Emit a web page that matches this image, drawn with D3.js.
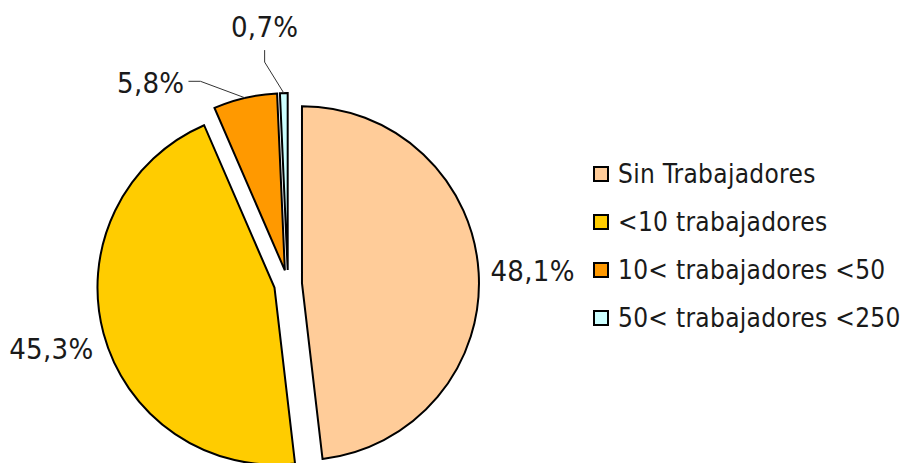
<!DOCTYPE html>
<html>
<head>
<meta charset="utf-8">
<script src="https://cdn.jsdelivr.net/npm/d3@7"></script>
<style>
  html, body { margin: 0; padding: 0; background: #fff; }
  svg { display: block; }
  text { font-family: "DejaVu Sans Condensed", "DejaVu Sans", sans-serif; font-stretch: condensed; fill: #1a1a1a; }
</style>
</head>
<body>
<svg id="chart" width="910" height="463"></svg>
<script>
// Categories, values (%) and slice colours
const categories = ["Sin Trabajadores", "<10 trabajadores", "10< trabajadores <50", "50< trabajadores <250"];
const values = [48.1, 45.3, 5.8, 0.7];
const colors = ["#FFCC99", "#FFCC00", "#FF9900", "#CCFFFF"];

// Label layout: null = on the slice's mid-angle; otherwise angle (deg) / distance from the slice centre
const labelLayout = [
  null,
  null,
  { angle: 324.5, dist: 231, leader: "right" },
  { angle: -5.4, dist: 245, leader: "below" }
];

const width = 910, height = 463;
const cx = 288, cy = 284, radius = 177, explode = 14, labelDist = 231;

const svg = d3.select("#chart");
const fmt = d3.formatLocale({ decimal: ",", thousands: ".", grouping: [3], currency: ["", "€"] }).format(".1f");

const pie = d3.pie().sort(null).value(d => d)(values);
const arc = d3.arc().innerRadius(0).outerRadius(radius);

const rad = a => a * Math.PI / 180;
const polar = (angle, r) => [r * Math.sin(angle), -r * Math.cos(angle)];

const g = svg.append("g").attr("transform", `translate(${cx},${cy})`);

// Exploded slices
const slices = pie.map((p, i) => {
  const mid = (p.startAngle + p.endAngle) / 2;
  const [ox, oy] = polar(mid, explode);
  return { p, i, mid, ox, oy };
});

g.selectAll("path.slice")
  .data(slices)
  .join("path")
  .attr("class", "slice")
  .attr("transform", d => `translate(${d.ox},${d.oy})`)
  .attr("d", d => arc(d.p))
  .attr("fill", d => colors[d.i])
  .attr("stroke", "#000")
  .attr("stroke-width", 2)
  .attr("stroke-linejoin", "miter");

// Value labels (with leader lines for the thin slices)
const labelSize = 29;
slices.forEach(d => {
  const lay = labelLayout[d.i];
  const ang = lay ? rad(lay.angle) : d.mid;
  const dist = lay ? lay.dist : labelDist;
  const [lx, ly] = polar(ang, dist);
  const tx = d.ox + lx, ty = d.oy + ly;
  const t = g.append("text")
    .attr("x", tx)
    .attr("y", ty + 11)
    .attr("text-anchor", "middle")
    .attr("font-size", labelSize)
    .attr("letter-spacing", 0.3)
    .text(fmt(values[d.i]) + "%");
  if (lay) {
    const bb = t.node().getBBox();
    const [px, py] = polar(d.mid, radius);
    const ax = d.ox + px, ay = d.oy + py;
    let pts;
    if (lay.leader === "right") {
      const sx = bb.x + bb.width + 4, sy = ty - 1;
      pts = [[sx, sy], [sx + 12, sy], [ax, ay]];
    } else {
      const sx = tx, sy = bb.y + bb.height + 6;
      pts = [[sx, sy], [sx, sy + 12], [ax, ay]];
    }
    g.append("path")
      .attr("d", d3.line()(pts))
      .attr("fill", "none")
      .attr("stroke", "#333")
      .attr("stroke-width", 1);
  }
});

// Legend
const legendY = d3.scalePoint().domain(categories).range([174, 318]);
const legend = svg.append("g").attr("transform", "translate(594,0)");
const items = legend.selectAll("g.item")
  .data(categories)
  .join("g")
  .attr("class", "item")
  .attr("transform", d => `translate(0,${legendY(d)})`);
items.append("rect")
  .attr("x", 0).attr("y", -7)
  .attr("width", 14).attr("height", 14)
  .attr("fill", (d, i) => colors[i])
  .attr("stroke", "#000")
  .attr("stroke-width", 2);
items.append("text")
  .attr("x", 24)
  .attr("y", 9)
  .attr("font-size", 26)
  .attr("letter-spacing", 0.3)
  .text(d => d);
</script>
</body>
</html>
